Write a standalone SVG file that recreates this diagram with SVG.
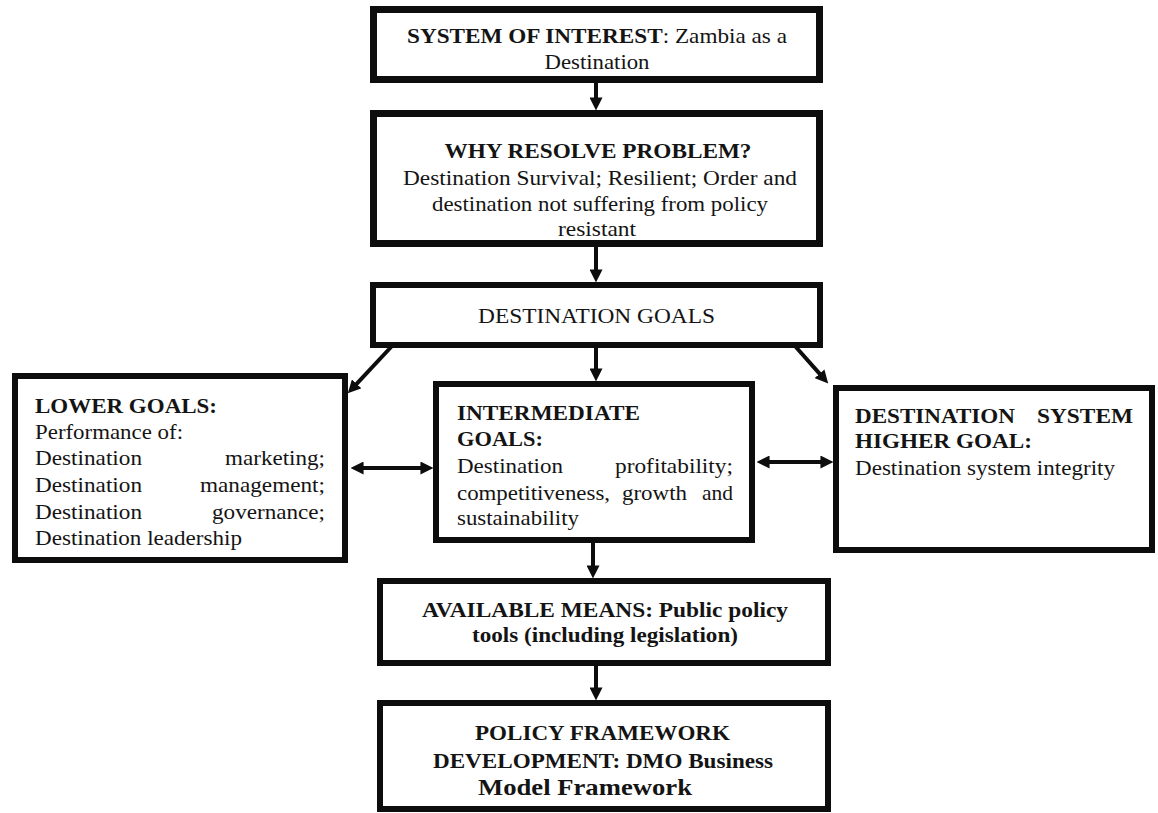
<svg xmlns="http://www.w3.org/2000/svg" width="1158" height="813" viewBox="0 0 1158 813" font-family="Liberation Serif, serif">
  <style>
    .box { fill: #ffffff; stroke: #0d0d0d; stroke-width: 6; }
    .heavy { stroke-width: 7; }
    .t { font-size: 22px; fill: #141414; }
    .b { font-weight: bold; }
    .c { text-anchor: middle; }
    .e { text-anchor: end; }
    .link { stroke: #0d0d0d; stroke-width: 4; fill: none; marker-end: url(#ah); }
    .both { marker-start: url(#ah); }
  </style>
  <defs>
    <marker id="ah" viewBox="0 0 12 12" refX="7" refY="6" markerWidth="13" markerHeight="13" markerUnits="userSpaceOnUse" orient="auto-start-reverse">
      <path d="M0,0 L12,6 L0,12 z" fill="#0d0d0d"/>
    </marker>
  </defs>
  <rect width="1158" height="813" fill="#ffffff"/>

  <g id="connectors">
    <line class="link" x1="596" y1="83" x2="596" y2="105"/>
    <line class="link" x1="596" y1="247" x2="596" y2="277"/>
    <line class="link" x1="596" y1="348" x2="596" y2="376"/>
    <line class="link" x1="392" y1="346" x2="351.5" y2="389.4"/>
    <line class="link" x1="795" y1="346" x2="824.6" y2="379.4"/>
    <line class="link both" x1="356" y1="468" x2="428" y2="468"/>
    <line class="link both" x1="762" y1="462" x2="828" y2="462"/>
    <line class="link" x1="593" y1="543" x2="593" y2="573"/>
    <line class="link" x1="596" y1="666" x2="596" y2="695"/>
  </g>

  <g id="system-of-interest">
    <rect class="box heavy" x="373.5" y="9.5" width="446" height="70"/>
    <text class="t" x="407" y="43" textLength="380" lengthAdjust="spacingAndGlyphs"><tspan class="b">SYSTEM OF INTEREST</tspan>: Zambia as a</text>
    <text class="t c" x="597" y="69" textLength="105" lengthAdjust="spacingAndGlyphs">Destination</text>
  </g>

  <g id="why-resolve">
    <rect class="box heavy" x="373.5" y="113.5" width="446" height="130"/>
    <text class="t b c" x="598" y="158" textLength="307" lengthAdjust="spacingAndGlyphs">WHY RESOLVE PROBLEM?</text>
    <text class="t" x="403" y="185" textLength="394" lengthAdjust="spacingAndGlyphs">Destination Survival; Resilient; Order and</text>
    <text class="t" x="432" y="211" textLength="336" lengthAdjust="spacingAndGlyphs">destination not suffering from policy</text>
    <text class="t c" x="597" y="236" textLength="78" lengthAdjust="spacingAndGlyphs">resistant</text>
  </g>

  <g id="destination-goals">
    <rect class="box" x="373" y="285" width="447" height="60"/>
    <text class="t" x="478" y="323" textLength="237" lengthAdjust="spacingAndGlyphs">DESTINATION GOALS</text>
  </g>

  <g id="lower-goals">
    <rect class="box" x="15" y="376" width="330" height="184"/>
    <text class="t b" x="35" y="413" textLength="182" lengthAdjust="spacingAndGlyphs">LOWER GOALS:</text>
    <text class="t" x="35" y="439" textLength="148" lengthAdjust="spacingAndGlyphs">Performance of:</text>
    <text class="t" x="35" y="465" textLength="107" lengthAdjust="spacingAndGlyphs">Destination</text>
    <text class="t e" x="325" y="465" textLength="100" lengthAdjust="spacingAndGlyphs">marketing;</text>
    <text class="t" x="35" y="492" textLength="107" lengthAdjust="spacingAndGlyphs">Destination</text>
    <text class="t e" x="325" y="492" textLength="125" lengthAdjust="spacingAndGlyphs">management;</text>
    <text class="t" x="35" y="519" textLength="107" lengthAdjust="spacingAndGlyphs">Destination</text>
    <text class="t e" x="325" y="519" textLength="113" lengthAdjust="spacingAndGlyphs">governance;</text>
    <text class="t" x="35" y="545" textLength="207" lengthAdjust="spacingAndGlyphs">Destination leadership</text>
  </g>

  <g id="intermediate-goals">
    <rect class="box" x="436" y="384" width="316" height="156"/>
    <text class="t b" x="457" y="420" textLength="183" lengthAdjust="spacingAndGlyphs">INTERMEDIATE</text>
    <text class="t b" x="457" y="446" textLength="86" lengthAdjust="spacingAndGlyphs">GOALS:</text>
    <text class="t" x="457" y="473" textLength="106" lengthAdjust="spacingAndGlyphs">Destination</text>
    <text class="t e" x="733" y="473" textLength="118" lengthAdjust="spacingAndGlyphs">profitability;</text>
    <text class="t" x="457" y="500" textLength="153" lengthAdjust="spacingAndGlyphs">competitiveness,</text>
    <text class="t" x="622" y="500" textLength="65" lengthAdjust="spacingAndGlyphs">growth</text>
    <text class="t e" x="733" y="500" textLength="31" lengthAdjust="spacingAndGlyphs">and</text>
    <text class="t" x="457" y="525" textLength="122" lengthAdjust="spacingAndGlyphs">sustainability</text>
  </g>

  <g id="higher-goal">
    <rect class="box" x="836" y="388" width="316" height="162"/>
    <text class="t b" x="855" y="423" textLength="160" lengthAdjust="spacingAndGlyphs">DESTINATION</text>
    <text class="t b e" x="1133" y="423" textLength="96" lengthAdjust="spacingAndGlyphs">SYSTEM</text>
    <text class="t b" x="855" y="448" textLength="177" lengthAdjust="spacingAndGlyphs">HIGHER GOAL:</text>
    <text class="t" x="855" y="475" textLength="260" lengthAdjust="spacingAndGlyphs">Destination system integrity</text>
  </g>

  <g id="available-means">
    <rect class="box" x="380" y="581" width="448" height="82"/>
    <text class="t b" x="422" y="617" textLength="366" lengthAdjust="spacingAndGlyphs">AVAILABLE MEANS: Public policy</text>
    <text class="t b" x="472" y="642" textLength="266" lengthAdjust="spacingAndGlyphs">tools (including legislation)</text>
  </g>

  <g id="policy-framework">
    <rect class="box" x="380" y="703" width="448" height="106"/>
    <text class="t b" x="475" y="740" textLength="255" lengthAdjust="spacingAndGlyphs">POLICY FRAMEWORK</text>
    <text class="t b" x="433" y="768" textLength="340" lengthAdjust="spacingAndGlyphs">DEVELOPMENT: DMO Business</text>
    <text class="t b" x="478" y="795" style="font-size:23px" textLength="214" lengthAdjust="spacingAndGlyphs">Model Framework</text>
  </g>
</svg>
